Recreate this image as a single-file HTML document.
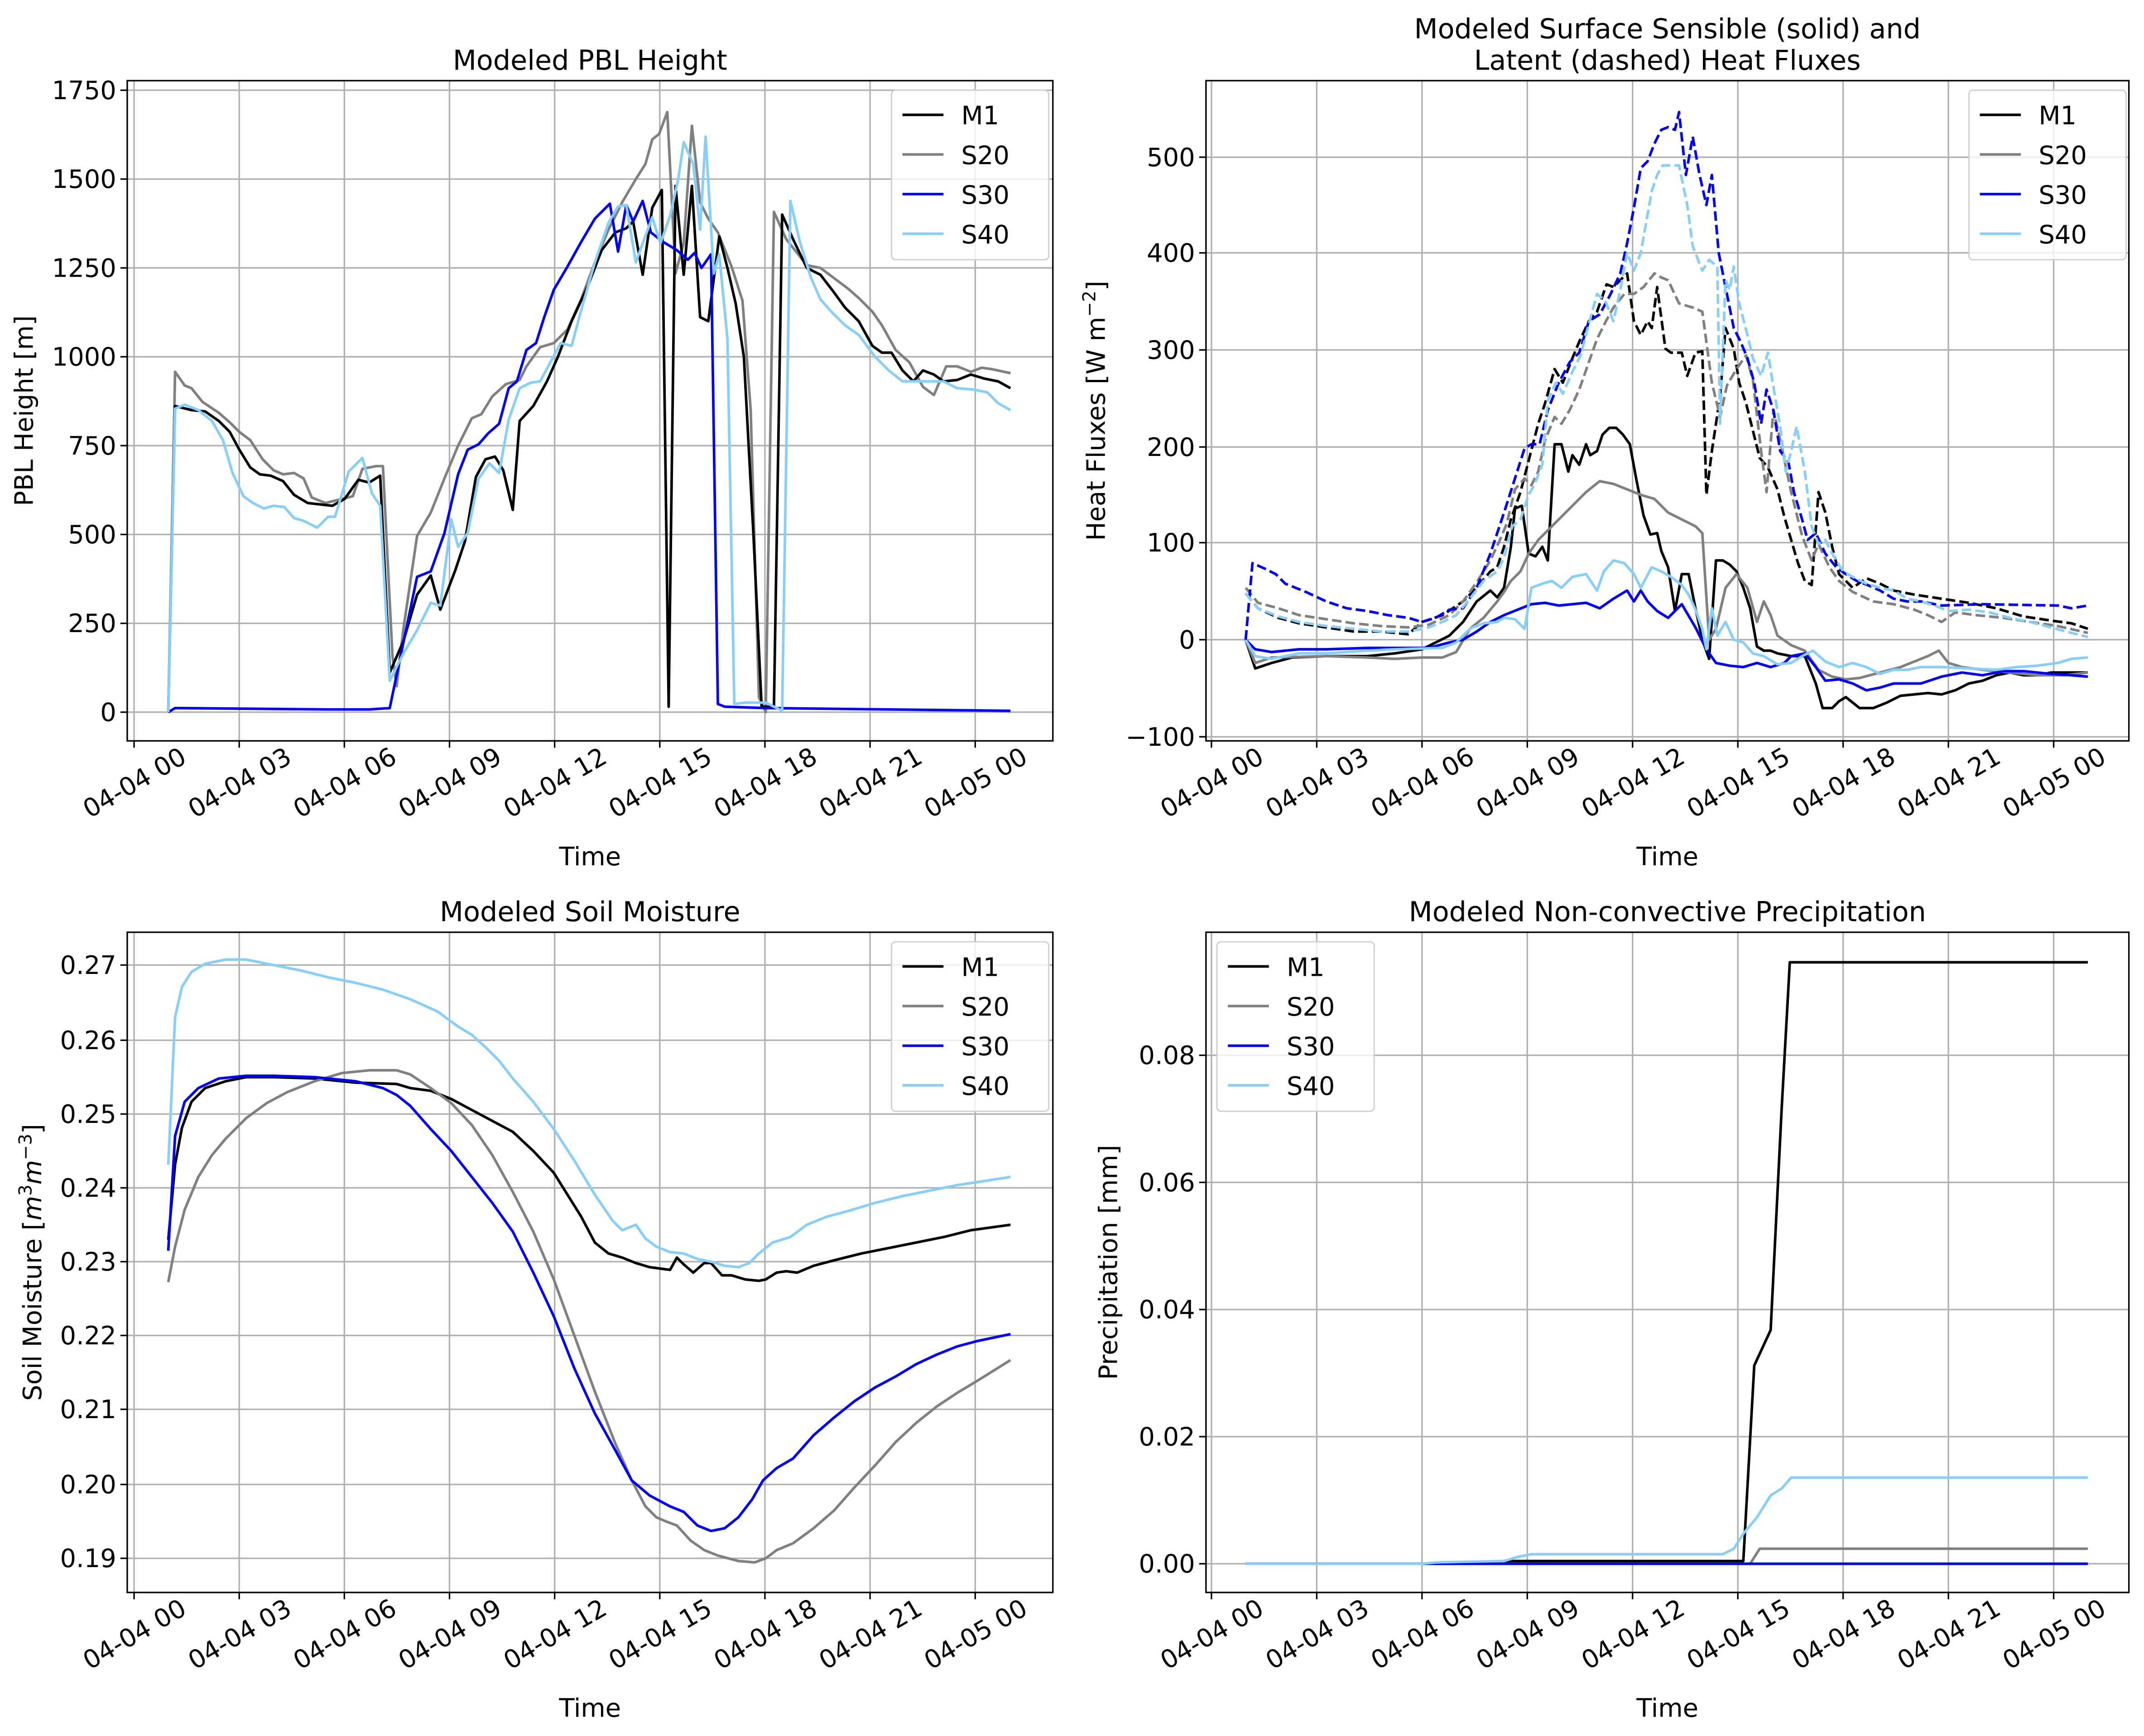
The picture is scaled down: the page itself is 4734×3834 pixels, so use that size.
<!DOCTYPE html>
<html><head><meta charset="utf-8">
<style>
html,body{margin:0;padding:0;background:#fff;}
svg{display:block;}
text{font-family:"DejaVu Sans","Liberation Sans",sans-serif;fill:#000;}
</style></head>
<body>
<svg id="s" xmlns="http://www.w3.org/2000/svg" width="4734" height="3834" viewBox="0 0 1568 1270">
<rect width="1568" height="1270" fill="#fff"/>
<g id="grid"></g>
<g fill="none" stroke-width="1.9" stroke-linejoin="round">
<!-- PBL -->
<polyline stroke="#808080" points="123,521 128,272 135,282 140,284 148,294 160,302 168,309 175,316 183,322 192,336 200,344 207,347 215,346 222,350 228,364 238,368 250,365 258,363 265,343 275,341 280,341 287,480 290,502 295,460 305,392 315,375 325,350 335,326 345,306 352,303 360,290 370,281 380,278 385,268 395,254 405,251 415,241 425,219 435,192 445,168 455,148 465,131 472,120 477,102 482,98 488,82 494,200 500,178 506,92 512,148 518,160 525,170 535,195 543,220 549,300 555,510 560,521 566,155 575,175 590,194 600,196 612,205 620,211 628,218 638,228 645,238 655,256 665,265 675,283 683,289 692,268 700,268 710,272 718,269 725,270 739,273"/>
<polyline stroke="#000" points="123,521 128,297 140,300 150,301 160,308 168,316 175,329 183,342 190,347 198,348 207,352 215,362 225,368 243,370 252,365 262,351 270,353 278,348 285,492 295,469 305,435 315,421 322,446 333,417 340,396 348,349 355,336 362,334 368,344 375,373 380,308 390,297 400,279 408,261 418,235 430,209 440,183 450,170 458,167 463,162 470,201 477,152 484,139 489,517 494,136 500,201 506,136 512,232 518,235 526,173 532,196 538,222 544,261 551,391 557,517 566,517 572,157 580,175 590,196 600,201 610,214 618,225 628,235 638,253 645,258 652,258 660,271 668,279 675,271 683,274 690,279 700,278 710,274 720,277 730,279 739,284"/>
<polyline stroke="#0000ff" points="123,521 128,518 240,519 270,519 285,518 295,470 305,422 315,418 325,390 335,347 342,329 350,325 357,317 365,310 372,284 378,279 385,256 392,251 398,232 405,212 415,195 425,177 435,160 446,149 452,184 458,150 463,162 470,147 476,170 485,177 495,183 503,190 508,185 513,196 520,186 525,515 530,517 560,518 739,520"/>
<polyline stroke="#87cefa" points="123,521 128,299 135,296 145,300 155,308 163,322 170,346 178,363 185,368 193,372 200,370 208,371 215,379 222,381 232,386 240,378 245,378 255,345 265,335 272,361 278,370 285,498 295,478 305,461 315,441 322,443 330,380 335,400 342,390 350,350 358,339 365,346 372,307 380,284 388,280 395,279 402,266 410,251 418,253 425,227 435,192 445,163 452,151 458,150 465,192 470,178 477,159 483,178 490,158 496,131 500,104 507,120 512,168 516,100 522,200 526,186 532,248 537,515 545,514 560,514 572,520 578,147 585,177 593,203 600,219 608,228 618,238 628,245 640,261 650,271 660,279 690,279 700,284 712,285 722,287 730,295 739,300"/>
<!-- Heat flux solid -->
<polyline stroke="#000" points="911,468 918,489 930,485 945,481 970,480 1000,480 1020,478 1040,475 1050,470 1060,465 1070,455 1080,440 1090,432 1095,437 1100,430 1105,400 1108,372 1113,370 1118,405 1123,407 1128,400 1132,410 1137,325 1142,325 1147,345 1150,333 1155,340 1160,325 1163,333 1168,330 1172,318 1177,313 1182,313 1187,318 1192,325 1197,352 1202,377 1207,391 1212,390 1215,403 1220,415 1225,447 1230,420 1235,420 1240,445 1245,468 1250,482 1255,410 1260,410 1265,413 1270,418 1275,430 1280,445 1285,473 1290,476 1295,476 1300,478 1310,480 1320,480 1328,500 1333,518 1340,518 1345,513 1350,510 1360,518 1370,518 1380,514 1390,509 1400,508 1410,507 1420,508 1430,505 1440,500 1450,498 1460,494 1470,492 1480,494 1490,494 1500,492 1527,492"/>
<polyline stroke="#808080" points="911,468 918,485 930,481 970,480 1000,481 1020,482 1040,481 1055,481 1065,477 1075,460 1085,452 1095,440 1100,433 1105,425 1112,418 1118,405 1125,395 1130,390 1140,380 1150,370 1160,360 1170,352 1180,354 1190,358 1200,362 1210,365 1220,375 1230,380 1240,385 1245,390 1250,468 1255,460 1262,430 1270,420 1278,430 1285,455 1290,440 1295,450 1300,465 1310,472 1320,476 1330,490 1340,495 1350,497 1360,496 1375,492 1390,488 1400,484 1410,480 1418,476 1425,485 1435,488 1450,490 1470,492 1490,494 1510,494 1527,492"/>
<polyline stroke="#0000ff" points="911,468 918,475 930,477 950,475 970,475 1000,474 1045,474 1060,470 1070,468 1080,462 1090,455 1100,450 1110,446 1120,442 1130,441 1140,443 1160,441 1170,445 1180,438 1190,432 1195,440 1200,432 1205,440 1212,447 1220,452 1230,442 1240,459 1248,475 1255,485 1265,487 1275,488 1285,485 1295,488 1305,485 1310,480 1320,478 1328,488 1335,498 1345,497 1355,500 1365,505 1375,503 1385,500 1405,500 1420,495 1435,492 1450,494 1465,491 1480,491 1500,493 1515,494 1527,495"/>
<polyline stroke="#87cefa" points="911,468 918,480 930,482 950,478 970,478 1000,476 1020,475 1055,474 1065,470 1075,460 1085,456 1095,455 1100,452 1108,453 1115,460 1120,430 1128,427 1135,425 1142,430 1150,422 1160,420 1168,432 1173,418 1180,410 1188,412 1195,420 1200,430 1208,415 1215,418 1222,422 1230,428 1235,435 1240,446 1245,460 1248,475 1252,445 1256,465 1262,455 1268,468 1275,470 1282,478 1290,480 1300,486 1310,485 1318,480 1326,476 1335,484 1345,488 1355,485 1365,488 1375,493 1385,490 1395,490 1405,488 1420,488 1460,490 1475,488 1490,487 1505,485 1515,482 1527,481"/>
<!-- Heat flux dashed -->
<g stroke-dasharray="7,3">
<polyline stroke="#000" points="911,434 920,445 935,452 950,456 970,459 990,462 1010,462 1030,464 1040,455 1055,450 1070,440 1080,430 1090,418 1095,415 1100,400 1105,380 1112,360 1118,337 1125,310 1130,295 1137,270 1143,280 1150,262 1155,250 1162,235 1168,228 1175,208 1180,210 1185,205 1190,200 1195,235 1200,245 1205,235 1208,240 1212,210 1218,255 1222,258 1230,258 1234,275 1240,258 1245,257 1248,362 1252,330 1258,290 1262,240 1268,255 1272,280 1277,295 1282,315 1287,335 1293,342 1300,358 1305,378 1310,395 1315,412 1320,425 1325,428 1330,360 1335,375 1340,400 1345,420 1355,430 1365,423 1375,427 1385,432 1400,435 1420,438 1440,441 1460,445 1480,451 1500,454 1515,456 1527,460"/>
<polyline stroke="#808080" points="911,430 920,441 935,445 950,450 970,453 990,456 1010,458 1030,459 1045,457 1060,450 1070,440 1080,426 1090,410 1097,395 1102,383 1108,358 1115,350 1120,355 1125,345 1130,322 1137,305 1142,310 1148,300 1155,285 1162,265 1168,248 1175,234 1180,225 1188,215 1195,215 1202,210 1210,200 1215,203 1220,205 1228,222 1238,225 1245,228 1252,280 1258,305 1263,282 1270,270 1277,260 1282,278 1288,330 1292,360 1297,300 1302,322 1310,360 1318,392 1325,410 1330,398 1338,415 1345,425 1355,433 1370,440 1385,442 1400,446 1410,450 1420,455 1430,448 1445,450 1465,452 1485,455 1505,458 1527,463"/>
<polyline stroke="#0000ff" points="911,468 916,412 925,416 933,420 940,427 955,433 970,440 985,445 1000,447 1015,450 1030,452 1040,455 1050,452 1060,446 1070,445 1080,430 1090,405 1100,375 1108,350 1115,328 1120,325 1126,325 1132,300 1140,280 1148,265 1155,258 1162,235 1170,230 1178,215 1185,200 1190,178 1195,152 1200,123 1205,118 1210,105 1215,95 1220,93 1225,95 1228,82 1233,128 1238,100 1243,128 1248,150 1252,128 1257,185 1262,210 1268,240 1273,250 1278,262 1283,280 1288,310 1292,285 1297,300 1302,330 1308,338 1312,360 1318,380 1322,395 1328,390 1335,405 1343,415 1350,420 1358,425 1366,428 1375,432 1385,438 1395,440 1405,440 1420,443 1450,442 1505,443 1515,445 1527,443"/>
<polyline stroke="#87cefa" points="911,434 920,445 935,451 950,455 970,458 990,460 1010,462 1030,462 1045,459 1055,455 1065,450 1075,438 1085,425 1095,418 1100,408 1106,385 1112,380 1118,362 1122,355 1128,340 1132,293 1138,280 1143,288 1150,272 1156,260 1162,237 1168,215 1174,220 1180,235 1185,212 1190,185 1195,198 1200,185 1208,140 1212,128 1216,121 1228,121 1234,150 1238,180 1245,198 1250,190 1256,195 1258,310 1262,205 1265,212 1268,195 1272,222 1278,245 1282,262 1288,275 1293,258 1297,283 1302,312 1306,345 1310,330 1314,312 1320,345 1325,385 1330,398 1335,395 1340,405 1348,418 1355,422 1365,427 1375,430 1385,432 1395,438 1405,440 1415,443 1425,447 1440,446 1455,448 1470,452 1485,455 1500,459 1515,463 1527,466"/>
</g>
<!-- Soil moisture -->
<polyline stroke="#000" points="123,907 128,852 133,825 140,806 150,796 165,791 180,788 200,788 230,789 260,792 290,793 300,796 315,798 330,804 345,812 360,820 375,828 390,842 405,858 415,874 425,890 435,909 445,917 455,920 465,924 475,927 490,929 495,920 500,925 507,931 515,924 520,924 528,933 535,933 545,936 555,937 560,936 568,931 575,930 583,931 595,926 610,922 630,917 650,913 670,909 690,905 710,900 739,896"/>
<polyline stroke="#808080" points="123,938 128,912 135,885 145,861 155,845 165,833 180,818 195,807 210,799 230,791 250,785 270,783 290,783 300,786 315,796 330,807 345,823 360,845 375,872 390,901 405,936 420,977 435,1018 450,1056 462,1083 472,1102 480,1110 487,1113 495,1116 505,1127 515,1134 525,1138 540,1142 552,1143 560,1140 568,1134 580,1129 595,1118 610,1105 625,1088 640,1072 655,1055 670,1041 685,1029 700,1019 715,1010 739,995"/>
<polyline stroke="#0000ff" points="123,915 128,831 135,806 145,796 160,789 180,787 200,787 230,788 260,791 280,796 290,801 300,809 315,826 330,842 345,861 360,880 375,901 390,931 405,963 420,1001 435,1034 450,1061 462,1083 475,1094 490,1102 500,1106 510,1116 520,1120 530,1118 540,1110 550,1097 558,1083 568,1074 580,1067 595,1050 610,1037 625,1025 640,1015 655,1007 670,998 685,991 700,985 715,981 739,976"/>
<polyline stroke="#87cefa" points="123,852 128,744 133,722 140,711 150,705 165,702 180,702 200,706 220,710 240,715 260,719 280,724 300,731 320,740 335,751 345,757 355,766 365,776 375,789 390,806 405,826 420,849 435,874 448,893 455,900 465,896 472,906 480,912 490,916 500,917 510,921 520,923 530,926 540,927 548,924 555,917 565,909 578,905 590,896 605,890 620,886 640,880 660,875 680,871 700,867 720,864 739,861"/>
<!-- Precip -->
<polyline stroke="#000" points="911,1144 1090,1144 1100,1142 1275,1142 1283,999 1295,973 1303,812 1309,704 1527,704"/>
<polyline stroke="#808080" points="911,1144 1280,1144 1287,1133 1527,1133"/>
<polyline stroke="#0000ff" points="911,1144 1527,1144"/>
<polyline stroke="#87cefa" points="911,1144 1040,1144 1050,1143 1100,1142 1110,1139 1120,1137 1260,1137 1268,1133 1275,1122 1285,1110 1295,1094 1303,1089 1310,1081 1527,1081"/>
</g>
<g id="fr"></g>
</svg>
<script>
var NS="http://www.w3.org/2000/svg",g=document.getElementById('grid'),fr=document.getElementById('fr');
function el(p,tag,a,t){var e=document.createElementNS(NS,tag);for(var k in a)e.setAttribute(k,a[k]);if(t!==undefined)e.textContent=t;p.appendChild(e);return e;}
var FS=18.5;
function panel(L,R,T,B,x0,dx,yt,title,ylab,leg){
  var xl=['04-04 00','04-04 03','04-04 06','04-04 09','04-04 12','04-04 15','04-04 18','04-04 21','04-05 00'];
  for(var i=0;i<9;i++){var x=x0+i*dx;
    el(g,'line',{x1:x,x2:x,y1:T,y2:B,stroke:'#b0b0b0','stroke-width':1.1});
    el(fr,'line',{x1:x,x2:x,y1:B,y2:B+5,stroke:'#000','stroke-width':1.1});
    el(fr,'text',{x:0,y:0,'font-size':FS,'text-anchor':'middle',transform:'translate('+x+' '+(B+30)+') rotate(-30) translate(0 7)'},xl[i]);}
  yt.forEach(function(p){
    el(g,'line',{x1:L,x2:R,y1:p[1],y2:p[1],stroke:'#b0b0b0','stroke-width':1.1});
    el(fr,'line',{x1:L-5,x2:L,y1:p[1],y2:p[1],stroke:'#000','stroke-width':1.1});
    el(fr,'text',{x:L-8,y:p[1]+6.5,'font-size':FS,'text-anchor':'end'},p[0]);});
  el(fr,'rect',{x:L,y:T,width:R-L,height:B-T,fill:'none',stroke:'#000','stroke-width':1.1});
  title.forEach(function(t,i){el(fr,'text',{x:(L+R)/2,y:T-8-(title.length-1-i)*23,'font-size':20,'text-anchor':'middle'},t);});
  el(fr,'text',{x:(L+R)/2,y:B+91,'font-size':FS,'text-anchor':'middle'},'Time');
  var yl=el(fr,'text',{x:0,y:0,'font-size':FS,'text-anchor':'middle',transform:'translate('+ylab[0]+' '+((T+B)/2)+') rotate(-90)'});
  yl.innerHTML=ylab[1];
  var lx=leg[0],ly=leg[1];
  el(fr,'rect',{x:lx,y:ly,width:115,height:124,rx:3,fill:'#fff','fill-opacity':0.8,stroke:'#d0d0d0','stroke-width':1});
  var names=['M1','S20','S30','S40'],cols=['#000','#808080','#0000ff','#87cefa'];
  for(var i=0;i<4;i++){var yy=ly+18+i*29;
    el(fr,'line',{x1:lx+8,x2:lx+38,y1:yy,y2:yy,stroke:cols[i],'stroke-width':1.9});
    el(fr,'text',{x:lx+51,y:yy+7,'font-size':FS},names[i]);}
}
panel(93,770,59,542,98,76.9,[['0',521],['250',456],['500',391],['750',326],['1000',261],['1250',196],['1500',131],['1750',66]],['Modeled PBL Height'],[24,'PBL Height [m]'],[652,66]);
panel(882,1557,59,542,886,77,[['−100',539],['0',468],['100',397],['200',327],['300',256],['400',185],['500',115]],['Modeled Surface Sensible (solid) and','Latent (dashed) Heat Fluxes'],[808,'Heat Fluxes [W m<tspan dy="-7" font-size="13">−2</tspan><tspan dy="7">]</tspan>'],[1440,66]);
panel(93,770,682,1165,98,76.9,[['0.19',1140],['0.20',1086],['0.21',1031],['0.22',977],['0.23',923],['0.24',869],['0.25',815],['0.26',761],['0.27',706]],['Modeled Soil Moisture'],[30,'Soil Moisture [<tspan font-style="italic">m</tspan><tspan dy="-7" font-size="13">3</tspan><tspan dy="7" font-style="italic">m</tspan><tspan dy="-7" font-size="13">−3</tspan><tspan dy="7">]</tspan>'],[652,689]);
panel(882,1557,682,1165,886,77,[['0.00',1144],['0.02',1051],['0.04',958],['0.06',865],['0.08',772]],['Modeled Non-convective Precipitation'],[817,'Precipitation [mm]'],[890,689]);
</script>
</body></html>
